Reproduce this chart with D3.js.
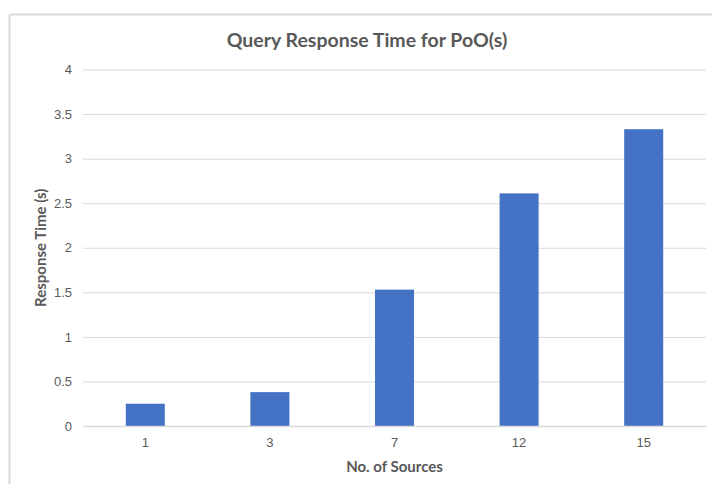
<!DOCTYPE html>
<html>
<head>
<meta charset="utf-8">
<script src="https://cdn.jsdelivr.net/npm/d3@7"></script>
<style>
  html, body { margin: 0; padding: 0; background: #fff; }
  svg { display: block; font-family: Lato, "Open Sans", sans-serif; }
</style>
</head>
<body>
<svg id="chart" width="712" height="484"></svg>
<script>
// Number of sources queried and the measured response time (seconds)
const sources = ["1", "3", "7", "12", "15"];
const responseTimes = [0.25, 0.38, 1.53, 2.61, 3.33];
const yTicks = [0, 0.5, 1, 1.5, 2, 2.5, 3, 3.5, 4];

const svg = d3.select("#chart");
const W = 712, H = 484;
const plot = { left: 83, right: 706, top: 69.5, bottom: 426 };

// Chart-area frame (only top and left edges fall inside the view)
svg.append("line").attr("x1", 9.5).attr("x2", W).attr("y1", 14.5).attr("y2", 14.5)
  .attr("stroke", "#d9d9d9").attr("stroke-width", 2);
svg.append("line").attr("x1", 9.5).attr("x2", 9.5).attr("y1", 14.5).attr("y2", H)
  .attr("stroke", "#d9d9d9").attr("stroke-width", 2);

const x = d3.scaleBand().domain(sources)
  .range([plot.left, plot.right]).paddingInner(0.687).paddingOuter(0.3435);
const y = d3.scaleLinear().domain([0, 4]).range([plot.bottom, plot.top]);

// Horizontal gridlines and y tick labels
const yAxis = d3.axisLeft(y).tickValues(yTicks).tickSize(-(plot.right - plot.left))
  .tickPadding(11).tickFormat(d3.format("~g"));
const gy = svg.append("g").attr("transform", `translate(${plot.left},0)`).call(yAxis);
gy.select(".domain").remove();
gy.selectAll(".tick line").attr("stroke", "#d9d9d9").attr("stroke-width", 1);
gy.selectAll(".tick text").attr("fill", "#595959").attr("font-size", 13);

// Bars
svg.append("g").selectAll("rect").data(responseTimes).join("rect")
  .attr("x", (d, i) => x(sources[i]))
  .attr("width", x.bandwidth())
  .attr("y", d => y(d))
  .attr("height", d => y(0) - y(d))
  .attr("fill", "#4472c4");

// Category axis
const xAxis = d3.axisBottom(x).tickSize(0).tickPadding(12);
const gx = svg.append("g").attr("transform", `translate(0,${plot.bottom})`).call(xAxis);
gx.select(".domain").attr("stroke", "#d9d9d9").attr("stroke-width", 1.5);
gx.selectAll(".tick text").attr("fill", "#595959").attr("font-size", 13);

// Titles
svg.append("text").attr("x", 367).attr("y", 47).attr("text-anchor", "middle")
  .attr("font-size", 19.5).attr("font-weight", "bold").attr("fill", "#595959")
  .text("Query Response Time for PoO(s)");

svg.append("text").attr("x", (plot.left + plot.right) / 2).attr("y", 472)
  .attr("text-anchor", "middle").attr("font-size", 15).attr("font-weight", "bold")
  .attr("fill", "#595959").text("No. of Sources");

svg.append("text")
  .attr("transform", `translate(46,${(plot.top + plot.bottom) / 2}) rotate(-90)`)
  .attr("text-anchor", "middle").attr("font-size", 15).attr("font-weight", "bold")
  .attr("fill", "#595959").text("Response Time (s)");
</script>
</body>
</html>
